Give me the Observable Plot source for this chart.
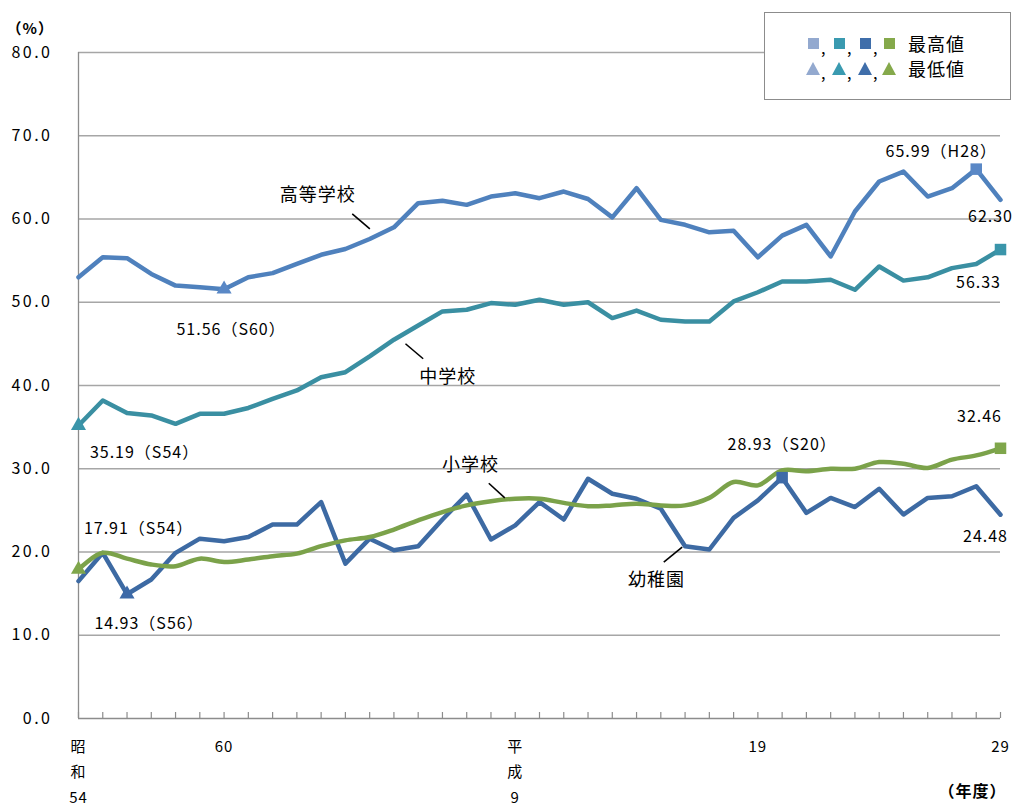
<!DOCTYPE html>
<html><head><meta charset="utf-8">
<script src="https://cdn.jsdelivr.net/npm/d3@7"></script>
<script src="https://cdn.jsdelivr.net/npm/@observablehq/plot@0.6"></script>
<style>
body{margin:0;background:#fff;}
#wrap{position:relative;width:1016px;height:805px;font-family:"Noto Sans CJK JP",sans-serif;}
#wrap svg text{letter-spacing:1px;}
#wrap g[aria-label="series-name"] text{letter-spacing:1.5px;}
#wrap g[aria-label="y-axis tick label"] text{letter-spacing:2.5px;}
#legend{position:absolute;left:764px;top:12px;width:247px;height:88px;border:1.5px solid #8c8c8c;background:#fff;box-sizing:border-box;}
#legend .sq{position:absolute;width:11px;height:11px;}
#legend .tri{position:absolute;width:0;height:0;border-left:7.5px solid transparent;border-right:7.5px solid transparent;border-bottom:13px solid;}
#legend .cm{position:absolute;font-size:16px;line-height:16px;}
#legend .lt{position:absolute;font-size:18px;line-height:20px;letter-spacing:1px;color:#000;}
</style>
</head><body>
<div id="wrap"><div id="chart"></div><div id="legend"></div></div>
<script>
// ---- data ----
const years = [1979,1980,1981,1982,1983,1984,1985,1986,1987,1988,1989,1990,1991,1992,1993,1994,1995,1996,1997,1998,1999,2000,2001,2002,2003,2004,2005,2006,2007,2008,2009,2010,2011,2012,2013,2014,2015,2016,2017];
const highSchool = [53.0,55.4,55.3,53.4,52.0,51.8,51.56,53.0,53.5,54.6,55.7,56.4,57.6,59.0,61.9,62.2,61.7,62.7,63.1,62.5,63.3,62.4,60.2,63.7,59.9,59.3,58.4,58.6,55.4,58.0,59.3,55.5,60.9,64.5,65.7,62.7,63.7,65.99,62.30];
const middleSchool = [35.19,38.2,36.7,36.4,35.4,36.6,36.6,37.3,38.4,39.4,41.0,41.6,43.5,45.5,47.2,48.9,49.1,49.9,49.7,50.3,49.7,50.0,48.1,49.0,47.9,47.7,47.7,50.1,51.2,52.5,52.5,52.7,51.5,54.3,52.6,53.0,54.1,54.6,56.33];
const kindergarten = [16.5,19.9,14.93,16.7,19.9,21.6,21.3,21.8,23.3,23.3,26.0,18.6,21.6,20.2,20.7,23.9,26.9,21.5,23.2,26.0,23.9,28.8,27.0,26.4,25.2,20.7,20.3,24.1,26.2,28.93,24.7,26.5,25.4,27.6,24.5,26.5,26.7,27.9,24.48];
const elementary = [17.91,19.9,19.2,18.5,18.3,19.2,18.8,19.1,19.5,19.8,20.7,21.4,21.8,22.7,23.8,24.8,25.6,26.1,26.4,26.4,25.9,25.5,25.6,25.8,25.6,25.6,26.5,28.4,28.0,29.8,29.7,30.0,30.0,30.8,30.6,30.1,31.1,31.6,32.46];
const seriesNames = ["高等学校","中学校","小学校","幼稚園"];
const yTicks = [0,10,20,30,40,50,60,70,80];
const xTickLabels = [
  {year:1979, text:"昭\n和\n54"},
  {year:1985, text:"60"},
  {year:1997, text:"平\n成\n9"},
  {year:2007, text:"19"},
  {year:2017, text:"29"}
];
const legendTexts = ["最高値","最低値"];
const extremeLabels = [
  {series:"high", which:"max", text:"65.99（H28）"},
  {series:"high", which:"last", text:"62.30"},
  {series:"high", which:"min", text:"51.56（S60）"},
  {series:"middle", which:"max", text:"56.33"},
  {series:"middle", which:"min", text:"35.19（S54）"},
  {series:"elem", which:"max", text:"32.46"},
  {series:"elem", which:"min", text:"17.91（S54）"},
  {series:"kinder", which:"max", text:"28.93（S20）"},
  {series:"kinder", which:"min", text:"14.93（S56）"},
  {series:"kinder", which:"last", text:"24.48"}
];

// ---- layout / style ----
const W = 1016, H = 805, ML = 78, MR = 16, MT = 52, MB = 87;
const pxPerYear = (W - ML - MR) / (years[years.length-1] - years[0]);
const pxPerUnit = (H - MT - MB) / 80;
const series = {
  high:   {values: highSchool,   color:"#4F81BD", mark:"#5A88C6", legend:"#93A9CF", name:seriesNames[0], curve:"linear"},
  middle: {values: middleSchool, color:"#3A8FA2", mark:"#3A95AA", legend:"#3A9AB0", name:seriesNames[1], curve:"linear"},
  kinder: {values: kindergarten, color:"#3D6AA3", mark:"#3D6AA8", legend:"#3F6EAA", name:seriesNames[3], curve:"linear"},
  elem:   {values: elementary,   color:"#7BA24A", mark:"#7FA64B", legend:"#85A94B", name:seriesNames[2], curve:"catmull-rom"}
};
const labelOffsets = {
  "high-max":[-35,-17], "high-last":[-10,17], "high-min":[7,41],
  "middle-max":[-22,33], "middle-min":[66,27],
  "elem-max":[-21,-31], "elem-min":[60,-41],
  "kinder-max":[0,-33], "kinder-min":[22,30], "kinder-last":[-15,22]
};
// series name labels: anchor index, label offset, leader offsets (px)
const nameLayout = {
  high:   {idx:12, d:[-52,-43.5], l:[-17.4,-25.2, 0.2,-10.2]},
  middle: {idx:14, d:[29.6,51.6], l:[-12.7,18.2, 5,33.2]},
  elem:   {idx:17, d:[-20.5,-35.7], l:[-2.2,-18, 13.8,-3.4]},
  kinder: {idx:25, d:[-28.6,34.3], l:[-21.3,16, -2.9,1]}
};

function idxOf(vals, which){
  if (which === "max") return d3.maxIndex(vals);
  if (which === "min") return d3.minIndex(vals);
  return vals.length - 1;
}

const marks = [];
// gridlines
marks.push(Plot.ruleY(yTicks.filter(d => d > 0), {stroke:"#a6a6a6", strokeWidth:1.3}));
// axis lines
marks.push(Plot.ruleY([0], {stroke:"#8c8c8c", strokeWidth:1.3}));
marks.push(Plot.ruleX([years[0]], {y1:0, y2:80, stroke:"#8c8c8c", strokeWidth:1.3}));
// x ticks
marks.push(Plot.ruleX(years, {x:d=>d, y1:0, y2:0, insetBottom:6, stroke:"#8c8c8c", strokeWidth:1.2}));
// y axis labels
marks.push(Plot.axisY({ticks:yTicks, tickFormat:d=>d.toFixed(1), tickSize:0, tickPadding:26, fontSize:16, label:null, fill:"#000"}));
// x axis labels
marks.push(Plot.text(xTickLabels, {x:"year", y:0, text:"text", lineAnchor:"top", dy:15, lineHeight:1.7, fontSize:15, fill:"#000"}));
// unit labels
marks.push(Plot.text(["（%）"], {frameAnchor:"top-left", textAnchor:"start", dx:-72, dy:-29, fontSize:15, fontWeight:"bold", fill:"#000"}));
marks.push(Plot.text(["（年度）"], {frameAnchor:"bottom-right", textAnchor:"end", dx:6, dy:78, fontSize:16, fontWeight:"bold", fill:"#000"}));

// lines
for (const key of ["high","middle","kinder","elem"]) {
  const s = series[key];
  const data = years.map((yr,i)=>({year:yr, value:s.values[i]}));
  marks.push(Plot.line(data, {x:"year", y:"value", stroke:s.color, strokeWidth:4.5, strokeLinejoin:"round", curve:s.curve}));
}
// extreme markers
for (const key of ["high","middle","kinder","elem"]) {
  const s = series[key];
  const iMax = idxOf(s.values,"max"), iMin = idxOf(s.values,"min");
  marks.push(Plot.dot([{year:years[iMax], value:s.values[iMax]}], {x:"year", y:"value", symbol:"square", r:6.5, fill:s.mark}));
  marks.push(Plot.dot([{year:years[iMin], value:s.values[iMin]}], {x:"year", y:"value", symbol:"triangle", r:5.6, fill:s.mark}));
}
// value labels
for (const lab of extremeLabels) {
  const s = series[lab.series];
  const i = idxOf(s.values, lab.which);
  const [dx, dy] = labelOffsets[lab.series + "-" + lab.which];
  marks.push(Plot.text([{year:years[i], value:s.values[i], text:lab.text}], {x:"year", y:"value", text:"text", dx, dy, fontSize:16, fill:"#000"}));
}
// series names and leaders
for (const key of Object.keys(nameLayout)) {
  const s = series[key], L = nameLayout[key];
  const yr = years[L.idx], v = s.values[L.idx];
  marks.push(Plot.text([{year:yr, value:v, text:s.name}], {x:"year", y:"value", text:"text", dx:L.d[0], dy:L.d[1], fontSize:18, fill:"#000", ariaLabel:"series-name"}));
  marks.push(Plot.link([{
      x1: yr + L.l[0]/pxPerYear, y1: v - L.l[1]/pxPerUnit,
      x2: yr + L.l[2]/pxPerYear, y2: v - L.l[3]/pxPerUnit}],
    {x1:"x1", y1:"y1", x2:"x2", y2:"y2", stroke:"#000", strokeWidth:1.6}));
}

const chart = Plot.plot({
  width: W, height: H,
  marginLeft: ML, marginRight: MR, marginTop: MT, marginBottom: MB,
  x: {domain:[years[0], years[years.length-1]], axis:null},
  y: {domain:[0,80], axis:null},
  style: {fontFamily:'"Noto Sans CJK JP", sans-serif', fontSize:"16px", background:"#fff", color:"#000", overflow:"visible"},
  marks
});
document.getElementById("chart").appendChild(chart);

// legend
const lg = document.getElementById("legend");
const order = ["high","middle","kinder","elem"];
const xs = [43, 69, 95, 119];
order.forEach((k, j) => {
  const sq = document.createElement("div");
  sq.className = "sq"; sq.style.background = series[k].legend;
  sq.style.left = xs[j] + "px"; sq.style.top = "25px";
  lg.appendChild(sq);
  const tr = document.createElement("div");
  tr.className = "tri"; tr.style.borderBottomColor = series[k].legend;
  tr.style.left = (xs[j]-2) + "px"; tr.style.top = "49px";
  lg.appendChild(tr);
  if (j < 3) {
    for (const top of [26, 51]) {
      const c = document.createElement("div");
      c.className = "cm"; c.textContent = ","; c.style.left = (xs[j]+13) + "px"; c.style.top = top + "px";
      lg.appendChild(c);
    }
  }
});
legendTexts.forEach((t, j) => {
  const d = document.createElement("div");
  d.className = "lt"; d.textContent = t; d.style.left = "143px"; d.style.top = (20 + j*25) + "px";
  lg.appendChild(d);
});
</script>
</body></html>
